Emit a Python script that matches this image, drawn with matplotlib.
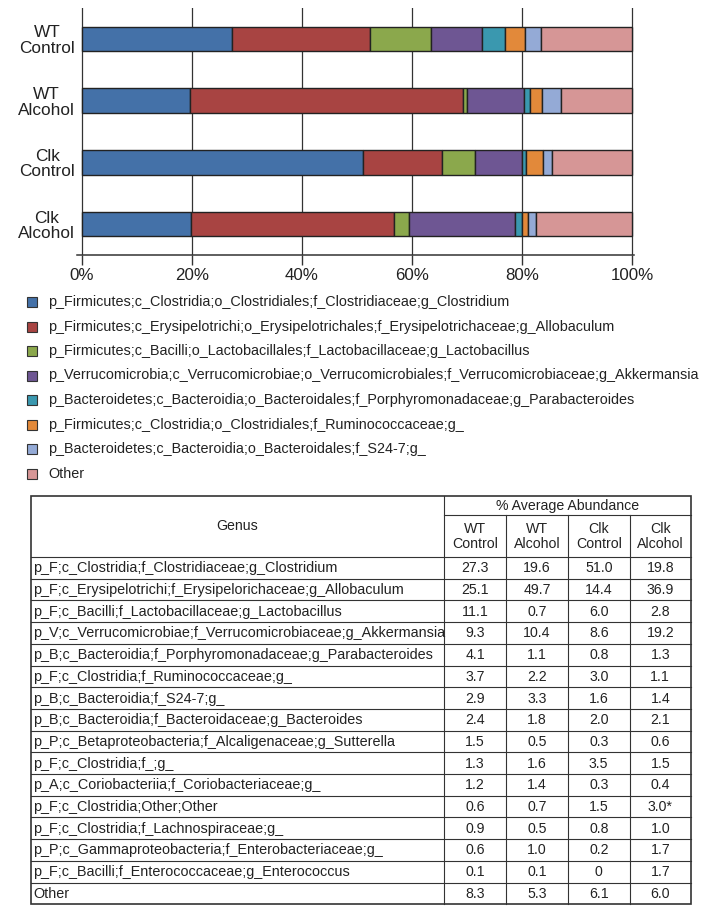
import matplotlib
matplotlib.use("Agg")
import matplotlib.pyplot as plt
from matplotlib.patches import Rectangle
import numpy as np

plt.rcParams["font.family"] = ["Liberation Sans", "DejaVu Sans"]

# ---------------------------------------------------------------
# DATA
# ---------------------------------------------------------------
GROUPS = ["WT\nControl", "WT\nAlcohol", "Clk\nControl", "Clk\nAlcohol"]
GROUP_HEADERS = ["WT\nControl", "WT\nAlcohol", "Clk\nControl", "Clk\nAlcohol"]

LEGEND_LABELS = [
    "p_Firmicutes;c_Clostridia;o_Clostridiales;f_Clostridiaceae;g_Clostridium",
    "p_Firmicutes;c_Erysipelotrichi;o_Erysipelotrichales;f_Erysipelotrichaceae;g_Allobaculum",
    "p_Firmicutes;c_Bacilli;o_Lactobacillales;f_Lactobacillaceae;g_Lactobacillus",
    "p_Verrucomicrobia;c_Verrucomicrobiae;o_Verrucomicrobiales;f_Verrucomicrobiaceae;g_Akkermansia",
    "p_Bacteroidetes;c_Bacteroidia;o_Bacteroidales;f_Porphyromonadaceae;g_Parabacteroides",
    "p_Firmicutes;c_Clostridia;o_Clostridiales;f_Ruminococcaceae;g_",
    "p_Bacteroidetes;c_Bacteroidia;o_Bacteroidales;f_S24-7;g_",
    "Other",
]

TABLE_GENUS = [
    "p_F;c_Clostridia;f_Clostridiaceae;g_Clostridium",
    "p_F;c_Erysipelotrichi;f_Erysipelorichaceae;g_Allobaculum",
    "p_F;c_Bacilli;f_Lactobacillaceae;g_Lactobacillus",
    "p_V;c_Verrucomicrobiae;f_Verrucomicrobiaceae;g_Akkermansia",
    "p_B;c_Bacteroidia;f_Porphyromonadaceae;g_Parabacteroides",
    "p_F;c_Clostridia;f_Ruminococcaceae;g_",
    "p_B;c_Bacteroidia;f_S24-7;g_",
    "p_B;c_Bacteroidia;f_Bacteroidaceae;g_Bacteroides",
    "p_P;c_Betaproteobacteria;f_Alcaligenaceae;g_Sutterella",
    "p_F;c_Clostridia;f_;g_",
    "p_A;c_Coriobacteriia;f_Coriobacteriaceae;g_",
    "p_F;c_Clostridia;Other;Other",
    "p_F;c_Clostridia;f_Lachnospiraceae;g_",
    "p_P;c_Gammaproteobacteria;f_Enterobacteriaceae;g_",
    "p_F;c_Bacilli;f_Enterococcaceae;g_Enterococcus",
    "Other",
]

WT_CONTROL = [27.3, 25.1, 11.1, 9.3, 4.1, 3.7, 2.9, 2.4, 1.5, 1.3, 1.2, 0.6, 0.9, 0.6, 0.1, 8.3]
WT_ALCOHOL = [19.6, 49.7, 0.7, 10.4, 1.1, 2.2, 3.3, 1.8, 0.5, 1.6, 1.4, 0.7, 0.5, 1.0, 0.1, 5.3]
CLK_CONTROL = [51.0, 14.4, 6.0, 8.6, 0.8, 3.0, 1.6, 2.0, 0.3, 3.5, 0.3, 1.5, 0.8, 0.2, 0.0, 6.1]
CLK_ALCOHOL = [19.8, 36.9, 2.8, 19.2, 1.3, 1.1, 1.4, 2.1, 0.6, 1.5, 0.4, 3.0, 1.0, 1.7, 1.7, 6.0]
# cell text as printed (one value carries a significance mark)
TABLE_MARKS = {(11, 3): "*"}

# remainder shown as "Other" in the bar chart
BAR_OTHER = [16.5, 13.0, 14.6, 17.5]

COLORS = ["#4471A8", "#A84442", "#8BA84C", "#6E5693",
          "#3A98AF", "#E2893A", "#94AAD6", "#D69696"]

INK = "#222222"
W, H = 704, 919

columns = [WT_CONTROL, WT_ALCOHOL, CLK_CONTROL, CLK_ALCOHOL]
n_top = len(LEGEND_LABELS) - 1
bar_data = np.array([[col[i] for col in columns] for i in range(n_top)] + [BAR_OTHER])


def px_box(left, top, width, height):
    return [left / W, 1 - (top + height) / H, width / W, height / H]


fig = plt.figure(figsize=(W / 100, H / 100), dpi=100)
fig.patch.set_facecolor("white")

# ---------------------------------------------------------------
# STACKED BARS
# ---------------------------------------------------------------
ax = fig.add_axes(px_box(76.5, 8, 557.2, 247))
y = np.arange(len(GROUPS))
left = np.zeros(len(GROUPS))
for vals, color in zip(bar_data, COLORS):
    ax.barh(y, vals, left=left, height=0.4, color=color,
            edgecolor=INK, linewidth=1.0, zorder=3)
    left += vals

ax.set_xlim(-1, 100.3)
ax.set_ylim(3.5, -0.5)
ax.set_xticks(np.arange(0, 101, 20))
ax.set_xticklabels([f"{v}%" for v in range(0, 101, 20)], fontsize=12.2, color=INK)
ax.set_yticks(y)
ax.set_yticklabels(GROUPS, fontsize=12.4, color=INK, linespacing=1.05)
for lbl in ax.get_yticklabels():
    lbl.set_multialignment("center")
ax.tick_params(axis="y", length=0, pad=1)
ax.tick_params(axis="x", length=7, width=1, color="#333333", pad=2)
for s in ["top", "right", "left"]:
    ax.spines[s].set_visible(False)
ax.spines["bottom"].set_color("#333333")
ax.spines["bottom"].set_linewidth(1.1)
ax.xaxis.grid(True, color="#333333", linewidth=0.9, zorder=0)
ax.set_axisbelow(True)

# ---------------------------------------------------------------
# LEGEND + TABLE (pixel overlay)
# ---------------------------------------------------------------
ov = fig.add_axes([0, 0, 1, 1])
ov.set_xlim(0, W)
ov.set_ylim(H, 0)
ov.axis("off")

for i, (label, color) in enumerate(zip(LEGEND_LABELS, COLORS)):
    yc = 302 + i * 24.5
    ov.add_patch(Rectangle((27, yc - 5), 10, 10, facecolor=color,
                           edgecolor="#333333", linewidth=0.8))
    ov.text(48, yc, label, fontsize=10.35, color=INK, va="center", ha="left")

# table geometry
tl, tr = 31, 691
t0, t1, t2 = 496, 515, 557
row_h = 21.7
col_x = [444, 506, 568, 629.5, 691]
nrows = len(TABLE_GENUS)
bottom = t2 + nrows * row_h

line_kw = dict(color="#333333", linewidth=0.8)
# horizontal lines
ov.plot([col_x[0], tr], [t1, t1], **line_kw)
for r in range(nrows):
    yy = t2 + r * row_h
    ov.plot([tl, tr], [yy, yy], **line_kw)
# vertical lines
ov.plot([col_x[0], col_x[0]], [t0, bottom], **line_kw)
for xx in col_x[1:-1]:
    ov.plot([xx, xx], [t1, bottom], **line_kw)
# outer border
ov.add_patch(Rectangle((tl, t0), tr - tl, bottom - t0, fill=False,
                       edgecolor="#333333", linewidth=1.2))

ov.text((tl + col_x[0]) / 2, (t0 + t2) / 2, "Genus", fontsize=10.2,
        color=INK, ha="center", va="center")
ov.text((col_x[0] + tr) / 2, (t0 + t1) / 2 + 0.5, "% Average Abundance",
        fontsize=10.2, color=INK, ha="center", va="center")
for j, head in enumerate(GROUP_HEADERS):
    ov.text((col_x[j] + col_x[j + 1]) / 2, (t1 + t2) / 2 + 0.5, head,
            fontsize=10.2, color=INK, ha="center", va="center",
            multialignment="center", linespacing=1.05)

for r, genus in enumerate(TABLE_GENUS):
    yc = t2 + (r + 0.5) * row_h + 0.5
    ov.text(tl + 2.5, yc, genus, fontsize=10.4, color=INK, ha="left", va="center")
    for j, col in enumerate(columns):
        v = col[r]
        txt = "0" if v == 0 else f"{v:.1f}"
        txt += TABLE_MARKS.get((r, j), "")
        ov.text((col_x[j] + col_x[j + 1]) / 2, yc, txt, fontsize=10.2,
                color=INK, ha="center", va="center")

fig.savefig("out.png", dpi=100, facecolor="white")
plt.close(fig)
